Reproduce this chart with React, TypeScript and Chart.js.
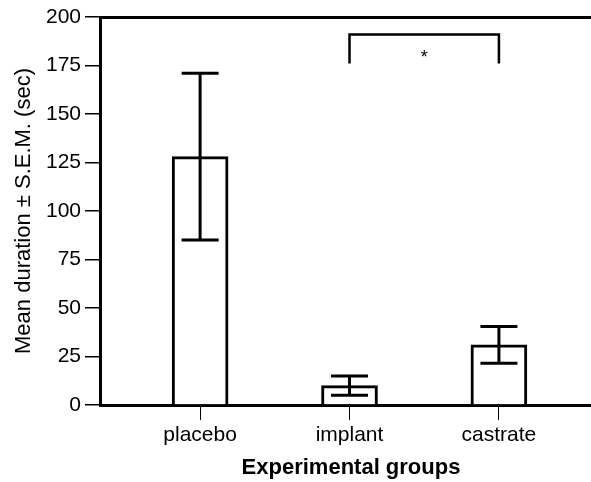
import React, { useEffect, useRef } from "react";
import { Chart, registerables } from "chart.js";

Chart.register(...registerables);

const categories = ["placebo", "implant", "castrate"];
const means = [128, 10, 31];
const sems = [43, 5, 9.5];
const yTicks = [0, 25, 50, 75, 100, 125, 150, 175, 200];
const xTitle = "Experimental groups";
const yTitle = "Mean duration \u00b1 S.E.M. (sec)";
const bracketFrom = "implant";
const bracketTo = "castrate";
const bracketTop = 191;
const bracketLegEnd = 176;
const starValue = 179;
const sigLabel = "*";

const FONT = "'Liberation Sans', Arial, Helvetica, sans-serif";

const extrasPlugin = {
  id: "extras",
  afterDatasetsDraw(chart: any) {
    const ctx = chart.ctx;
    const xs = chart.scales.x;
    const ys = chart.scales.y;
    const area = chart.chartArea;
    ctx.save();
    ctx.strokeStyle = "#000";
    ctx.lineCap = "butt";
    // error bars
    ctx.lineWidth = 3;
    categories.forEach((_, i) => {
      const x = xs.getPixelForValue(i + 1);
      const yT = ys.getPixelForValue(means[i] + sems[i]);
      const yB = ys.getPixelForValue(Math.max(0, means[i] - sems[i]));
      const cap = 18.5;
      ctx.beginPath();
      ctx.moveTo(x, yT);
      ctx.lineTo(x, yB);
      ctx.moveTo(x - cap, yT);
      ctx.lineTo(x + cap, yT);
      ctx.moveTo(x - cap, yB);
      ctx.lineTo(x + cap, yB);
      ctx.stroke();
    });
    // top border line
    ctx.lineWidth = 3;
    ctx.beginPath();
    ctx.moveTo(area.left, Math.round(area.top) + 0.5);
    ctx.lineTo(area.right, Math.round(area.top) + 0.5);
    ctx.stroke();
    // significance bracket
    const x1 = xs.getPixelForValue(categories.indexOf(bracketFrom) + 1);
    const x2 = xs.getPixelForValue(categories.indexOf(bracketTo) + 1);
    const yTop = ys.getPixelForValue(bracketTop);
    const yLeg = ys.getPixelForValue(bracketLegEnd);
    ctx.lineWidth = 2.5;
    ctx.beginPath();
    ctx.moveTo(x1, yLeg);
    ctx.lineTo(x1, yTop);
    ctx.lineTo(x2, yTop);
    ctx.lineTo(x2, yLeg);
    ctx.stroke();
    ctx.fillStyle = "#000";
    ctx.font = `18px ${FONT}`;
    ctx.textAlign = "center";
    ctx.textBaseline = "middle";
    ctx.fillText(sigLabel, (x1 + x2) / 2, ys.getPixelForValue(starValue));
    ctx.restore();
  },
};

export default function App() {
  const ref = useRef<HTMLCanvasElement | null>(null);
  useEffect(() => {
    if (!ref.current) return;
    const chart = new Chart(ref.current, {
      type: "bar",
      data: {
        datasets: [
          {
            data: categories.map((_, i) => ({ x: i + 1, y: means[i] })),
            backgroundColor: "#fff",
            borderColor: "#000",
            borderWidth: 3,
            barThickness: 56,
          },
        ],
      },
      options: {
        responsive: false,
        animation: false,
        layout: { padding: { top: 17, left: 0, right: 0, bottom: 0 } },
        plugins: { legend: { display: false }, tooltip: { enabled: false } },
        scales: {
          x: {
            type: "linear",
            min: 0.33,
            max: 3.69,
            offset: false,
            afterBuildTicks: (s: any) => {
              s.ticks = categories.map((_, i) => ({ value: i + 1 }));
            },
            afterFit: (s: any) => {
              s.height = 77;
            },
            ticks: {
              callback: (v: any) => categories[Number(v) - 1] ?? "",
              color: "#000",
              font: { family: FONT, size: 21 },
              padding: 3,
              maxRotation: 0,
              autoSkip: false,
            },
            grid: {
              offset: false,
              drawOnChartArea: false,
              drawTicks: true,
              tickLength: 15,
              color: "#000",
              lineWidth: 1,
            },
            border: { display: true, color: "#000", width: 3 },
            title: {
              display: true,
              text: xTitle,
              color: "#000",
              font: { family: FONT, size: 22, weight: "bold" },
              padding: { top: 0, bottom: 1 },
            },
          },
          y: {
            type: "linear",
            min: 0,
            max: 200,
            afterBuildTicks: (s: any) => {
              s.ticks = yTicks.map((v) => ({ value: v }));
            },
            afterFit: (s: any) => {
              s.width = 100;
            },
            ticks: {
              color: "#000",
              font: { family: FONT, size: 21 },
              padding: 4,
            },
            grid: {
              drawOnChartArea: false,
              drawTicks: true,
              tickLength: 15,
              color: "#000",
              lineWidth: 1.5,
            },
            border: { display: true, color: "#000", width: 3 },
            title: {
              display: true,
              text: yTitle,
              color: "#000",
              font: { family: FONT, size: 22 },
              padding: { top: 11, bottom: 0 },
            },
          },
        },
      },
      plugins: [extrasPlugin],
    } as any);
    return () => chart.destroy();
  }, []);
  return (
    <div
      style={{
        position: "fixed",
        left: 0,
        top: 0,
        width: 591,
        height: 482,
        overflow: "hidden",
        background: "#fff",
      }}
    >
      <canvas ref={ref} width={602} height={482} style={{ display: "block" }} />
    </div>
  );
}
